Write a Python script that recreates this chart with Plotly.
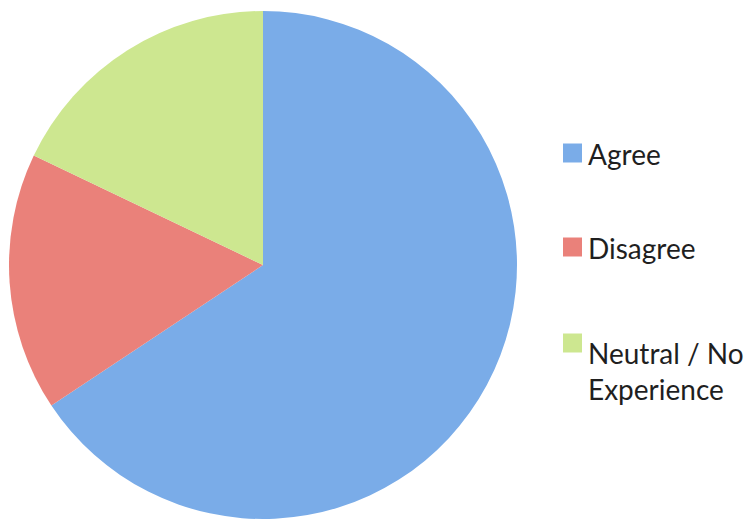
import plotly.graph_objects as go

labels = ["Agree", "Disagree", "Neutral / No Experience"]
legend_text = ["Agree", "Disagree", "Neutral / No<br>Experience"]
values = [44, 11, 12]
colors = ["#7aace8", "#ea817a", "#cde790"]

W, H = 746, 527

fig = go.Figure()
fig.add_trace(go.Pie(
    labels=labels,
    values=values,
    sort=False,
    direction="clockwise",
    rotation=0,
    marker=dict(colors=colors, line=dict(width=0)),
    textinfo="none",
    hoverinfo="label+value+percent",
    showlegend=False,
    domain=dict(x=[9 / W, 517 / W], y=[1 - 519 / H, 1 - 11 / H]),
))

# legend drawn as swatches + text
legend_y = [153, 247, 343]
block_y = [154, 248, 371]
for i, (txt, col) in enumerate(zip(legend_text, colors)):
    cy = legend_y[i]
    fig.add_shape(type="rect", xref="paper", yref="paper",
                  x0=563 / W, x1=582 / W, y0=1 - (cy + 9.5) / H, y1=1 - (cy - 9.5) / H,
                  fillcolor=col, line=dict(width=0))
    fig.add_annotation(xref="paper", yref="paper", x=586 / W, y=1 - block_y[i] / H,
                       xanchor="left", yanchor="middle", text=txt, showarrow=False,
                       align="left",
                       font=dict(family="Lato, Open Sans, sans-serif", size=28, color="#1f1f1f"))

fig.update_layout(
    width=W, height=H,
    margin=dict(l=0, r=0, t=0, b=0),
    paper_bgcolor="white",
    plot_bgcolor="white",
)

fig.write_html("out.html", config={"displayModeBar": False},
               post_script="document.body.style.margin='0';")
